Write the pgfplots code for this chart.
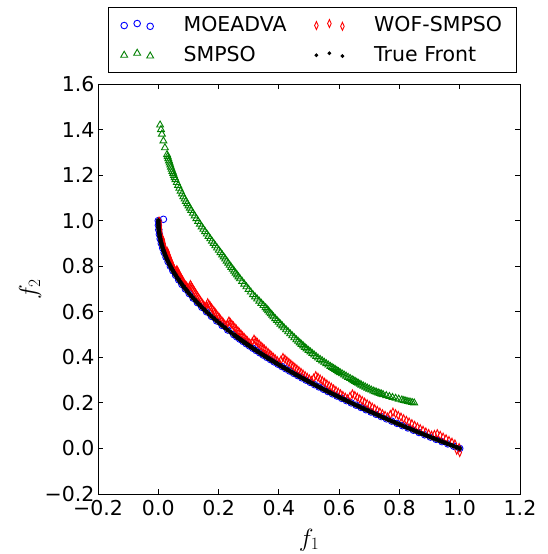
\documentclass[border=0pt]{standalone}
\usepackage{pgfplots}
\pgfplotsset{compat=1.18}
\usepackage{fontspec}
\setmainfont{DejaVu Sans}
\definecolor{mblue}{rgb}{0,0,1}
\definecolor{mgreen}{rgb}{0,0.5,0}
\definecolor{mred}{rgb}{1,0,0}
\begin{document}
\begin{tikzpicture}
\path[use as bounding box] (-98pt,-60pt) rectangle (450pt,494pt);
\begin{axis}[
  scale only axis,
  width=422pt, height=410pt,
  xmin=-0.2, xmax=1.2, ymin=-0.2, ymax=1.6,
  xtick={-0.2,0,0.2,0.4,0.6,0.8,1.0,1.2},
  xticklabels={−0.2,0.0,0.2,0.4,0.6,0.8,1.0,1.2},
  ytick={-0.2,0,0.2,0.4,0.6,0.8,1.0,1.2,1.4,1.6},
  yticklabels={−0.2,0.0,0.2,0.4,0.6,0.8,1.0,1.2,1.4,1.6},
  tick label style={font=\fontsize{20.5}{24}\selectfont},
  xticklabel style={yshift=-3pt},
  label style={font=\fontsize{24}{28}\selectfont},
  major tick length=5pt,
  tick align=inside,
  axis line style={line width=0.8pt},
  every tick/.style={black, line width=0.8pt},
  xlabel={$f_1$}, ylabel={$f_2$},
  xlabel style={at={(axis description cs:0.5,-0.112)}, anchor=center},
  ylabel style={at={(axis description cs:-0.161,0.5)}, anchor=center},
  legend columns=2,
  legend cell align=left,
  legend style={at={(0.508,1)}, anchor=south, yshift=11pt,
    draw=black, line width=0.8pt,
    font=\fontsize{20.5}{24}\selectfont,
    inner xsep=12pt, inner ysep=7.5pt, row sep=9pt,
    /tikz/every odd column/.append style={column sep=28pt},
    /tikz/every even column/.append style={column sep=26pt}},
  legend image code/.code={\draw[#1, only marks] plot coordinates {(0pt,-0.5pt)(13pt,1.5pt)(26pt,-1.3pt)};},
]
% MOEADVA
\addplot[forget plot, only marks, mark=o, mark size=3.3pt, mblue, line width=0.9pt] coordinates {
(0.017,1.006)(0,1)(0.0004,0.98)(0.0016,0.96)(0.0036,0.94)(0.0064,0.92)(0.01,0.90)(0.0144,0.88)(0.0196,0.86)(0.0256,0.84)(0.0324,0.82)(0.04,0.80)(0.0484,0.78)(0.0576,0.76)(0.0676,0.74)(0.0784,0.72)(0.09,0.70)(0.1024,0.68)(0.1156,0.66)(0.1296,0.64)(0.1444,0.62)(0.16,0.60)(0.1764,0.58)(0.1936,0.56)(0.2116,0.54)(0.2304,0.52)(0.25,0.50)
(0.2601,0.49)(0.2704,0.48)(0.2809,0.47)(0.2916,0.46)(0.3025,0.45)(0.3136,0.44)(0.3249,0.43)(0.3364,0.42)(0.3481,0.41)(0.36,0.40)(0.3721,0.39)(0.3844,0.38)(0.3969,0.37)(0.4096,0.36)(0.4225,0.35)(0.4356,0.34)(0.4489,0.33)(0.4624,0.32)(0.4761,0.31)(0.49,0.30)(0.5041,0.29)(0.5184,0.28)(0.5329,0.27)(0.5476,0.26)(0.5625,0.25)(0.5776,0.24)(0.5929,0.23)(0.6084,0.22)(0.6241,0.21)(0.64,0.20)(0.6561,0.19)(0.6724,0.18)(0.6889,0.17)(0.7056,0.16)(0.7225,0.15)(0.7396,0.14)(0.7569,0.13)(0.7744,0.12)(0.7921,0.11)(0.81,0.10)(0.8281,0.09)(0.8464,0.08)(0.8649,0.07)(0.8836,0.06)(0.9025,0.05)(0.9216,0.04)(0.9409,0.03)(0.9604,0.02)(0.9801,0.01)(1.0,0.0)
};
% SMPSO
\addplot[forget plot, only marks, mark=triangle, mark size=4pt, mgreen, line width=0.9pt] coordinates {
(0.006,1.42)(0.009,1.40)(0.012,1.38)(0.017,1.35)(0.022,1.32)(0.029,1.29)(0.0312,1.2809)(0.0333,1.2717)(0.0355,1.2625)(0.0377,1.2533)(0.0399,1.2442)(0.042,1.235)(0.0445,1.2259)(0.047,1.2167)(0.0495,1.2075)(0.052,1.1983)(0.0545,1.1892)(0.057,1.18)(0.0614,1.1675)(0.0657,1.155)(0.07,1.1425)(0.0743,1.13)(0.0787,1.1175)(0.083,1.105)(0.0874,1.095)(0.0917,1.085)(0.096,1.075)(0.1003,1.065)(0.1047,1.055)(0.109,1.045)(0.1149,1.033)(0.1207,1.021)(0.1265,1.009)(0.1323,0.997)(0.1382,0.985)(0.144,0.973)(0.1497,0.9625)(0.1553,0.952)(0.161,0.9415)(0.1667,0.931)(0.1724,0.9205)(0.178,0.91)(0.1837,0.90)(0.1893,0.89)(0.195,0.88)(0.2007,0.87)(0.2064,0.86)(0.212,0.85)(0.217,0.8409)(0.222,0.8317)(0.227,0.8225)(0.232,0.8133)(0.237,0.8042)(0.242,0.795)(0.2469,0.7867)(0.2517,0.7783)(0.2565,0.77)(0.2613,0.7617)(0.2662,0.7534)(0.271,0.745)(0.2782,0.7334)(0.2853,0.7217)(0.2925,0.71)(0.2997,0.6983)(0.3069,0.6867)(0.314,0.675)(0.321,0.6655)(0.328,0.656)(0.335,0.6465)(0.342,0.637)(0.349,0.6275)(0.356,0.618)(0.3604,0.6114)(0.3647,0.6047)(0.369,0.598)(0.3733,0.5913)(0.3777,0.5847)(0.382,0.578)(0.3879,0.57)(0.3937,0.562)(0.3995,0.554)(0.4053,0.546)(0.4112,0.538)(0.417,0.53)(0.4239,0.5212)(0.4307,0.5123)(0.4375,0.5035)(0.4443,0.4947)(0.4512,0.4859)(0.458,0.477)(0.4637,0.4704)(0.4693,0.4637)(0.475,0.457)(0.4807,0.4503)(0.4864,0.4437)(0.492,0.437)(0.4984,0.4304)(0.5047,0.4237)(0.511,0.417)(0.5173,0.4103)(0.5237,0.4037)(0.530,0.397)(0.5369,0.3909)(0.5437,0.3847)(0.5505,0.3785)(0.5573,0.3723)(0.5642,0.3662)(0.571,0.36)(0.5764,0.3555)(0.5817,0.351)(0.587,0.3465)(0.5923,0.342)(0.5977,0.3375)(0.603,0.333)(0.6097,0.3279)(0.6163,0.3227)(0.623,0.3175)(0.6297,0.3123)(0.6364,0.3072)(0.643,0.302)(0.6482,0.298)(0.6533,0.294)(0.6585,0.29)(0.6637,0.286)(0.6689,0.282)(0.674,0.278)(0.6805,0.2737)(0.687,0.2693)(0.6935,0.265)(0.700,0.2607)(0.7065,0.2564)(0.713,0.252)(0.7185,0.2494)(0.724,0.2467)(0.7295,0.244)(0.735,0.2413)(0.7405,0.2387)(0.746,0.236)(0.7563,0.232)(0.7667,0.228)(0.777,0.224)(0.7873,0.2203)(0.7977,0.2167)(0.808,0.213)(0.8147,0.2107)(0.8213,0.2083)(0.828,0.206)(0.835,0.204)(0.842,0.202)(0.849,0.20)
};
% WOF-SMPSO
\addplot[forget plot, only marks, mark=diamond, mark size=4pt, mark options={xscale=0.6}, mred, line width=0.9pt] coordinates {
(0.002,0.997)(0.0041,0.996)(0.0044,0.985)(0.0049,0.974)(0.0056,0.963)(0.0065,0.952)(0.0076,0.941)(0.0089,0.930)(0.0104,0.927)(0.0121,0.916)(0.014,0.919)(0.0161,0.906)(0.0184,0.893)(0.0209,0.880)(0.0236,0.867)(0.0265,0.854)(0.0296,0.865)(0.0329,0.852)(0.0364,0.839)(0.0401,0.826)(0.044,0.813)(0.0481,0.800)(0.0524,0.787)(0.0569,0.774)(0.0616,0.785)(0.0665,0.772)(0.0716,0.759)(0.0769,0.746)(0.0824,0.733)(0.0881,0.720)(0.094,0.7125)(0.1001,0.698)
(0.1064,0.7195)(0.1129,0.705)(0.1196,0.6905)(0.1265,0.676)(0.1336,0.6615)(0.1409,0.647)(0.1484,0.6325)(0.1561,0.618)(0.164,0.6395)(0.1721,0.625)(0.1804,0.6105)(0.1889,0.596)(0.1976,0.5815)(0.2065,0.567)(0.2156,0.5525)(0.2249,0.538)(0.2344,0.5595)(0.2441,0.545)(0.254,0.5305)(0.2641,0.516)(0.2744,0.5015)(0.2849,0.487)(0.2956,0.4725)(0.3065,0.458)(0.3176,0.4795)(0.3289,0.465)(0.3404,0.4505)(0.3521,0.436)(0.364,0.4215)(0.3761,0.407)(0.3884,0.3925)(0.4009,0.378)
(0.4136,0.3995)(0.4265,0.385)(0.4396,0.3705)(0.4529,0.356)(0.4664,0.3415)(0.4801,0.327)(0.494,0.3125)(0.5081,0.298)(0.5224,0.3195)(0.5369,0.305)(0.5516,0.2905)(0.5665,0.276)(0.5816,0.2615)(0.5969,0.247)(0.6124,0.2325)(0.6281,0.218)(0.644,0.2395)(0.6601,0.225)(0.6764,0.2105)(0.6929,0.196)(0.7096,0.1815)(0.7265,0.167)(0.7436,0.1525)(0.7609,0.138)(0.7784,0.1595)(0.7961,0.145)(0.814,0.1305)(0.8321,0.116)(0.8504,0.1015)(0.8689,0.087)(0.8876,0.0725)(0.9065,0.058)(0.9256,0.065)(0.9449,0.050)(0.9644,0.035)(0.9841,0.020)(0.998,0.004)(0.99,-0.008)(1.0,-0.018)
(0.0151,0.9125)(0.0173,0.8995)(0.0197,0.8865)(0.0223,0.8735)(0.0251,0.8605)(0.0281,0.8595)(0.0313,0.8585)(0.0347,0.8455)(0.0383,0.8325)(0.0421,0.8195)(0.0461,0.8065)(0.0503,0.7935)(0.0547,0.7805)(0.0593,0.7795)(0.0641,0.7785)(0.0691,0.7655)(0.0743,0.7525)(0.0797,0.7395)(0.0853,0.7265)(0.0911,0.7163)(0.0971,0.7053)(0.1033,0.7088)(0.1097,0.7123)(0.1163,0.6978)(0.1231,0.6833)(0.1301,0.6688)(0.1373,0.6543)(0.1447,0.6398)(0.1523,0.6253)(0.1601,0.6288)(0.1681,0.6323)(0.1763,0.6178)(0.1847,0.6033)(0.1933,0.5888)(0.2021,0.5743)(0.2111,0.5598)(0.2203,0.5453)(0.2297,0.5488)(0.2393,0.5523)(0.2491,0.5378)(0.2591,0.5233)(0.2693,0.5088)(0.2797,0.4943)(0.2903,0.4798)(0.3011,0.4653)(0.3121,0.4688)(0.3233,0.4723)(0.3347,0.4578)(0.3463,0.4433)(0.3581,0.4288)(0.3701,0.4143)(0.3823,0.3998)(0.3947,0.3853)(0.4073,0.3888)
(0.4201,0.3923)(0.4331,0.3778)(0.4463,0.3633)(0.4597,0.3488)(0.4733,0.3343)(0.4871,0.3198)(0.5011,0.3053)(0.5153,0.3088)(0.5297,0.3123)(0.5443,0.2978)(0.5591,0.2833)(0.5741,0.2688)(0.5893,0.2543)(0.6047,0.2398)(0.6203,0.2253)(0.6361,0.2288)(0.6521,0.2323)(0.6683,0.2178)(0.6847,0.2033)(0.7013,0.1888)(0.7181,0.1743)(0.7351,0.1598)(0.7523,0.1453)(0.7697,0.1488)(0.7873,0.1523)(0.8051,0.1378)(0.8231,0.1233)(0.8413,0.1088)(0.8597,0.0943)(0.8783,0.0798)(0.8971,0.0653)(0.9161,0.0615)(0.9353,0.0575)(0.9547,0.0425)(0.9743,0.0275)
};
% True Front
\addplot[forget plot, only marks, mark=*, mark size=2.2pt, black] coordinates {
(0,1)(0.0001,0.99)(0.0004,0.98)(0.0009,0.97)(0.0016,0.96)(0.0025,0.95)(0.0036,0.94)(0.0049,0.93)(0.0064,0.92)(0.0081,0.91)(0.01,0.90)(0.0121,0.89)(0.0144,0.88)(0.0169,0.87)(0.0196,0.86)(0.0225,0.85)(0.0256,0.84)(0.0289,0.83)(0.0324,0.82)(0.0361,0.81)(0.04,0.80)(0.0441,0.79)(0.0484,0.78)(0.0529,0.77)(0.0576,0.76)(0.0625,0.75)(0.0676,0.74)(0.0729,0.73)(0.0784,0.72)(0.0841,0.71)(0.09,0.70)(0.0961,0.69)(0.1024,0.68)(0.1089,0.67)(0.1156,0.66)(0.1225,0.65)(0.1296,0.64)(0.1369,0.63)(0.1444,0.62)(0.1521,0.61)(0.16,0.60)(0.1681,0.59)(0.1764,0.58)(0.1849,0.57)(0.1936,0.56)(0.2025,0.55)(0.2116,0.54)(0.2209,0.53)(0.2304,0.52)(0.2401,0.51)(0.25,0.50)
(0.2550,0.495)(0.2601,0.49)(0.2652,0.485)(0.2704,0.48)(0.2756,0.475)(0.2809,0.47)(0.2862,0.465)(0.2916,0.46)(0.2970,0.455)(0.3025,0.45)(0.3080,0.445)(0.3136,0.44)(0.3192,0.435)(0.3249,0.43)(0.3306,0.425)(0.3364,0.42)(0.3422,0.415)(0.3481,0.41)(0.3540,0.405)(0.36,0.40)(0.3660,0.395)(0.3721,0.39)(0.3782,0.385)(0.3844,0.38)(0.3906,0.375)(0.3969,0.37)(0.4032,0.365)(0.4096,0.36)(0.4160,0.355)(0.4225,0.35)(0.4290,0.345)(0.4356,0.34)(0.4422,0.335)(0.4489,0.33)(0.4556,0.325)(0.4624,0.32)(0.4692,0.315)(0.4761,0.31)(0.4830,0.305)(0.49,0.30)
(0.4970,0.295)(0.5041,0.29)(0.5112,0.285)(0.5184,0.28)(0.5256,0.275)(0.5329,0.27)(0.5402,0.265)(0.5476,0.26)(0.5550,0.255)(0.5625,0.25)(0.5700,0.245)(0.5776,0.24)(0.5852,0.235)(0.5929,0.23)(0.6006,0.225)(0.6084,0.22)(0.6162,0.215)(0.6241,0.21)(0.6320,0.205)(0.64,0.20)(0.6480,0.195)(0.6561,0.19)(0.6642,0.185)(0.6724,0.18)(0.6806,0.175)(0.6889,0.17)(0.6972,0.165)(0.7056,0.16)(0.7140,0.155)(0.7225,0.15)(0.7310,0.145)(0.7396,0.14)(0.7482,0.135)(0.7569,0.13)(0.7656,0.125)(0.7744,0.12)(0.7832,0.115)(0.7921,0.11)(0.8010,0.105)(0.81,0.10)
(0.8190,0.095)(0.8281,0.09)(0.8372,0.085)(0.8464,0.08)(0.8556,0.075)(0.8649,0.07)(0.8742,0.065)(0.8836,0.06)(0.8930,0.055)(0.9025,0.05)(0.9120,0.045)(0.9216,0.04)(0.9312,0.035)(0.9409,0.03)(0.9506,0.025)(0.9604,0.02)(0.9702,0.015)(0.9801,0.01)(0.9900,0.005)(1.0,0.0)
};
\addlegendimage{only marks, mark=o, mark size=3.3pt, mblue, line width=0.9pt}
\addlegendentry{MOEADVA}
\addlegendimage{only marks, mark=diamond, mark size=4pt, mark options={xscale=0.6}, mred, line width=0.9pt}
\addlegendentry{WOF-SMPSO}
\addlegendimage{only marks, mark=triangle, mark size=4pt, mgreen, line width=0.9pt}
\addlegendentry{SMPSO}
\addlegendimage{only marks, mark=*, mark size=1.5pt, black}
\addlegendentry{True Front}
\end{axis}
\end{tikzpicture}
\end{document}
